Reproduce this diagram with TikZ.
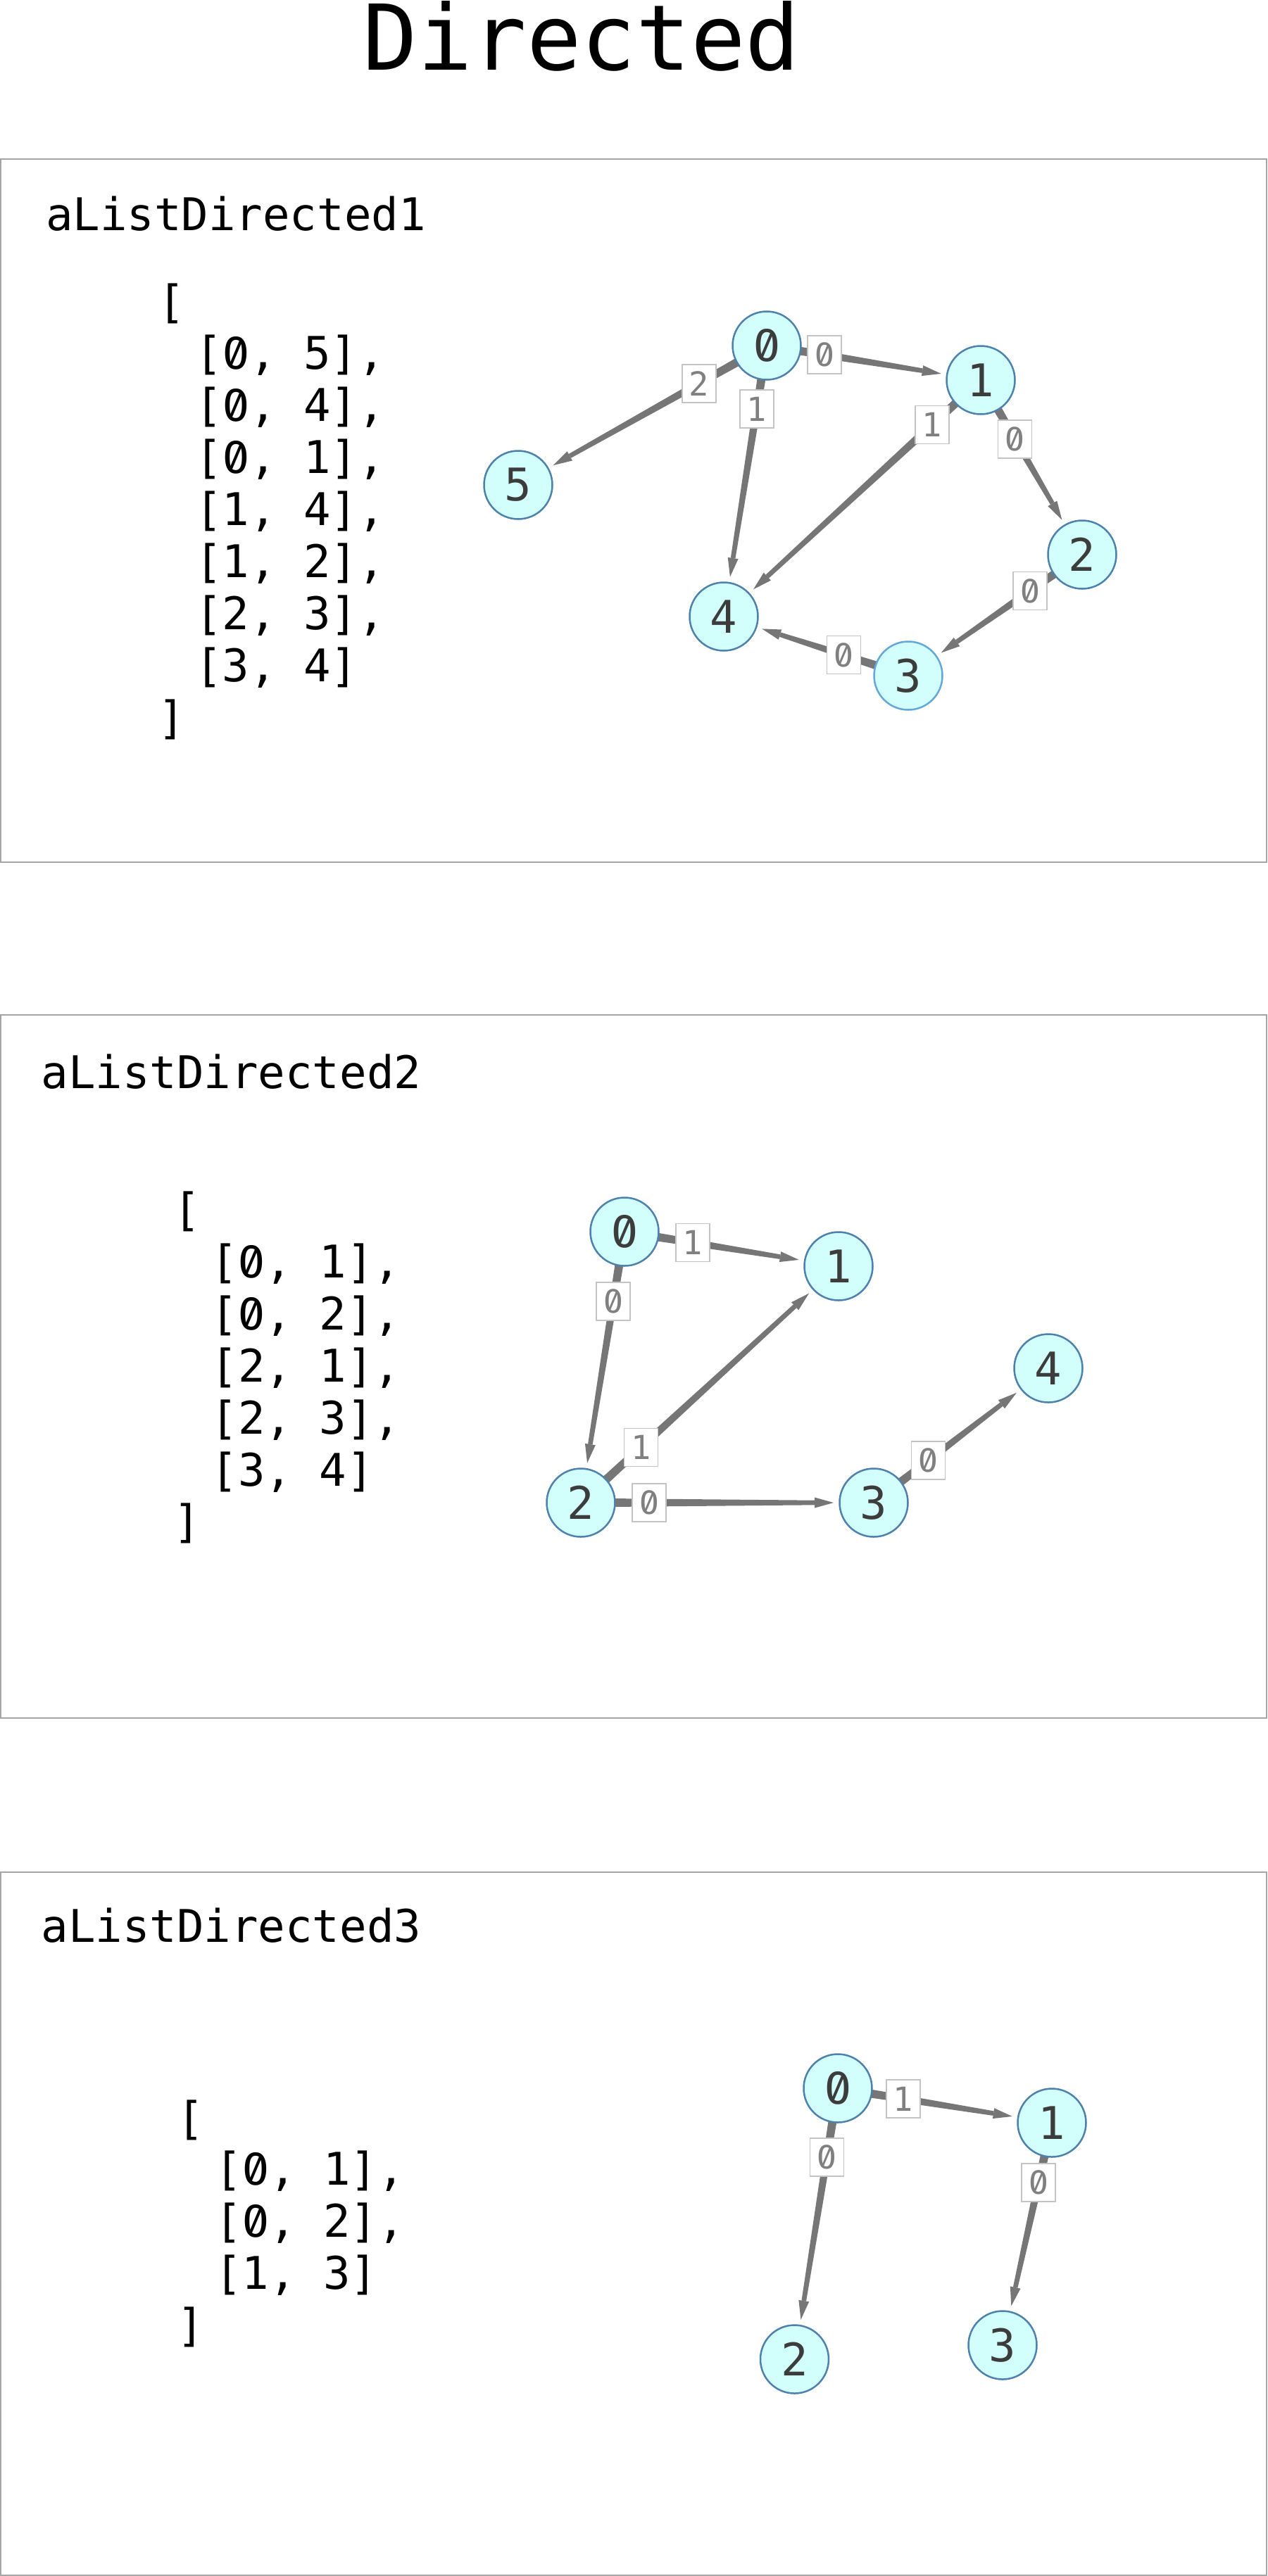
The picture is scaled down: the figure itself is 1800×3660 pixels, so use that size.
\documentclass[tikz,border=0pt]{standalone}
\usepackage{fontspec}
\newfontfamily\dvm{DejaVu Sans Mono}
\newfontfamily\fzero[RawFeature=+zero, Scale=1.06]{Fira Sans}
\newcommand\zr{\makebox[0.602em][c]{\fzero 0}}
\usetikzlibrary{calc,backgrounds}
\definecolor{edgegray}{RGB}{118,118,118}
\definecolor{nodefill}{RGB}{210,255,252}
\definecolor{nodeborder}{RGB}{78,130,172}
\definecolor{nodeborderlight}{RGB}{100,168,218}
\definecolor{nodetext}{RGB}{60,60,60}
\definecolor{lblgray}{RGB}{128,128,128}
\definecolor{lblborder}{RGB}{196,196,196}
\definecolor{panelborder}{RGB}{165,165,165}
% tapered directed edge from node #1 to node #2
\newcommand\taperedge[2]{%
  \coordinate (ts) at ($(#1)!40pt!(#2)$);
  \coordinate (tb) at ($(#2)!84pt!(#1)$);
  \coordinate (tt) at ($(#2)!57pt!(#1)$);
  \fill[edgegray] ($(ts)!6pt!90:(tb)$) -- ($(ts)!6pt!-90:(tb)$)
     -- ($(tb)!3.3pt!90:(ts)$) -- ($(tb)!3.3pt!-90:(ts)$) -- cycle;
  \fill[edgegray] ($(tb)!7.5pt!90:(tt)$) -- (tt) -- ($(tb)!7.5pt!-90:(tt)$) -- cycle;
}
\begin{document}
\begin{tikzpicture}[x=1pt,y=-1pt,
  vertex/.style={circle, fill=nodefill, draw=nodeborder, line width=2.5pt,
    minimum size=97pt, inner sep=0pt, text=nodetext,
    font=\dvm\fontsize{64}{64}\selectfont},
  elabel/.style={fill=white, draw=lblborder, line width=1.5pt, text=lblgray,
    font=\dvm\fontsize{47}{47}\selectfont, minimum width=48pt,
    minimum height=54pt, inner sep=0pt},
  codetext/.style={anchor=base west, inner sep=0pt, text=black,
    font=\dvm\fontsize{64}{74}\selectfont},
  panel/.style={draw=panelborder, line width=2pt}
]
\useasboundingbox (0,0) rectangle (1800,3660);

% title
\node[anchor=base, inner sep=0pt, font=\dvm\fontsize{129}{129}\selectfont] (title) at (826,99) {Directed};

% panels
\draw[panel] (1,226) rectangle (1799,1225);
\draw[panel] (1,1442) rectangle (1799,2441);
\draw[panel] (1,2660) rectangle (1799,3659);

% ---------- panel 1 ----------
\node[codetext] (p1name) at (65,327) {aListDirected1};
\node[codetext] (p1open) at (224,451) {[};
\node[codetext] (p1l1) at (277,524) {[\zr, 5],};
\node[codetext] (p1l2) at (277,598) {[\zr, 4],};
\node[codetext] (p1l3) at (277,672) {[\zr, 1],};
\node[codetext] (p1l4) at (277,746) {[1, 4],};
\node[codetext] (p1l5) at (277,820) {[1, 2],};
\node[codetext] (p1l6) at (277,894) {[2, 3],};
\node[codetext] (p1l7) at (277,968) {[3, 4]};
\node[codetext] (p1close) at (224,1042) {]};

\node[vertex] (a0) at (1089,491) {\zr};
\node[vertex] (a1) at (1393,540) {1};
\node[vertex] (a2) at (1537,788) {2};
\node[vertex, draw=nodeborderlight] (a3) at (1290,960) {3};
\node[vertex] (a4) at (1028,876) {4};
\node[vertex] (a5) at (736,689) {5};

\begin{pgfonlayer}{background}
\taperedge{a0}{a5}
\taperedge{a0}{a4}
\taperedge{a0}{a1}
\taperedge{a1}{a4}
\taperedge{a1}{a2}
\taperedge{a2}{a3}
\taperedge{a3}{a4}
\end{pgfonlayer}
\node[elabel] (la05) at ($(a0)!110pt!(a5)$) {2};
\node[elabel] (la04) at ($(a0)!91pt!(a4)$) {1};
\node[elabel] (la01) at ($(a0)!83pt!(a1)$) {\zr};
\node[elabel] (la14) at ($(a1)!94pt!(a4)$) {1};
\node[elabel] (la12) at ($(a1)!97pt!(a2)$) {\zr};
\node[elabel] (la23) at ($(a2)!90pt!(a3)$) {\zr};
\node[elabel] (la34) at ($(a3)!96pt!(a4)$) {\zr};

% ---------- panel 2 ----------
\node[codetext] (p2name) at (58.5,1546) {aListDirected2};
\node[codetext] (p2open) at (246,1741) {[};
\node[codetext] (p2l1) at (299.5,1815) {[\zr, 1],};
\node[codetext] (p2l2) at (299.5,1889) {[\zr, 2],};
\node[codetext] (p2l3) at (299.5,1963) {[2, 1],};
\node[codetext] (p2l4) at (299.5,2037) {[2, 3],};
\node[codetext] (p2l5) at (299.5,2111) {[3, 4]};
\node[codetext] (p2close) at (246,2184) {]};

\node[vertex] (b0) at (887,1750) {\zr};
\node[vertex] (b1) at (1191,1799) {1};
\node[vertex] (b2) at (825,2135) {2};
\node[vertex] (b3) at (1241,2135) {3};
\node[vertex] (b4) at (1489,1944) {4};

\begin{pgfonlayer}{background}
\taperedge{b0}{b1}
\taperedge{b0}{b2}
\taperedge{b2}{b1}
\taperedge{b2}{b3}
\taperedge{b3}{b4}
\end{pgfonlayer}
\node[elabel] (lb01) at ($(b0)!98pt!(b1)$) {1};
\node[elabel] (lb02) at ($(b0)!100pt!(b2)$) {\zr};
\node[elabel] (lb21) at ($(b2)!116pt!(b1)$) {1};
\node[elabel] (lb23) at ($(b2)!97pt!(b3)$) {\zr};
\node[elabel] (lb34) at ($(b3)!98pt!(b4)$) {\zr};

% ---------- panel 3 ----------
\node[codetext] (p3name) at (58.5,2759) {aListDirected3};
\node[codetext] (p3open) at (251.5,3032) {[};
\node[codetext] (p3l1) at (305,3104) {[\zr, 1],};
\node[codetext] (p3l2) at (305,3178) {[\zr, 2],};
\node[codetext] (p3l3) at (305,3252) {[1, 3]};
\node[codetext] (p3close) at (251.5,3326) {]};

\node[vertex] (c0) at (1190,2967) {\zr};
\node[vertex] (c1) at (1494,3016) {1};
\node[vertex] (c2) at (1128.5,3352) {2};
\node[vertex] (c3) at (1424,3332) {3};

\begin{pgfonlayer}{background}
\taperedge{c0}{c1}
\taperedge{c0}{c2}
\taperedge{c1}{c3}
\end{pgfonlayer}
\node[elabel] (lc01) at ($(c0)!94pt!(c1)$) {1};
\node[elabel] (lc02) at ($(c0)!99pt!(c2)$) {\zr};
\node[elabel] (lc13) at ($(c1)!87pt!(c3)$) {\zr};
\end{tikzpicture}
\end{document}
